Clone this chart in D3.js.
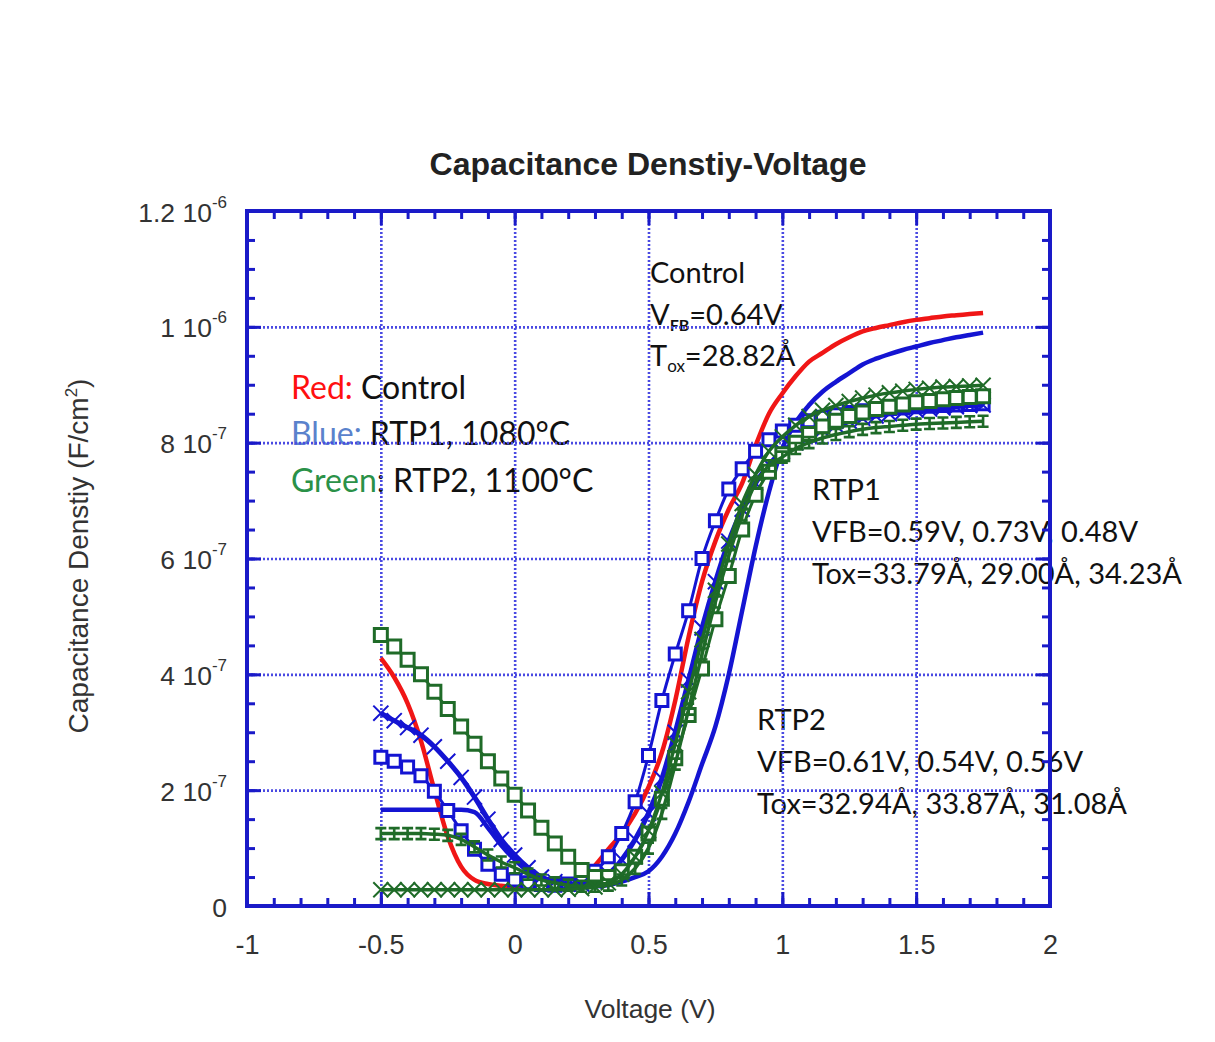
<!DOCTYPE html>
<html>
<head>
<meta charset="utf-8">
<script src="https://cdn.jsdelivr.net/npm/d3@7"></script>
<style>
body { margin: 0; background: #fff; }
.axislabel { font-family: "Liberation Sans", Arial, sans-serif; fill: #333; }
.note { font-family: Lato, "Open Sans", sans-serif; font-size: 29px; fill: #111; }
.legend { font-size: 32px; }
</style>
</head>
<body>
<svg id="chart" width="1215" height="1042"></svg>
<script>
// C-V sweeps, capacitance in units of 1e-7 F/cm^2
var voltage = [-0.5,-0.45,-0.4,-0.35,-0.3,-0.25,-0.2,-0.15,-0.1,-0.05,0,0.05,0.1,0.15,0.2,0.25,0.3,0.35,0.4,0.45,0.5,0.55,0.6,0.65,0.7,0.75,0.8,0.85,0.9,0.95,1,1.05,1.1,1.15,1.2,1.25,1.3,1.35,1.4,1.45,1.5,1.55,1.6,1.65,1.7,1.75];

var control = [4.28,3.95,3.5,2.85,2.0,1.2,0.68,0.45,0.38,0.35, 0.33,0.32,0.32,0.34,0.4,0.5,0.7,0.98,1.25,1.6, 2.05,2.65,3.55,4.65,5.6,6.3,6.85,7.3,7.95,8.5, 8.85,9.15,9.4,9.55,9.7,9.82,9.92,9.98,10.03,10.08, 10.12,10.15,10.18,10.2,10.22,10.24];

var rtp1Line = [1.66,1.66,1.66,1.66,1.66,1.66,1.66,1.62,1.35,1.05, 0.8,0.6,0.48,0.4,0.36,0.34,0.34,0.36,0.42,0.5, 0.6,0.85,1.25,1.8,2.45,3.1,4.0,5.1,6.2,7.15, 7.9,8.35,8.65,8.88,9.05,9.2,9.35,9.45,9.53,9.6, 9.66,9.72,9.77,9.82,9.86,9.9];
var rtp1Cross = [3.33,3.2,3.08,2.95,2.75,2.5,2.22,1.88,1.5,1.15, 0.88,0.66,0.5,0.42,0.38,0.38,0.42,0.55,0.8,1.15, 1.6,2.2,3.0,3.9,4.8,5.6,6.3,6.85,7.3,7.62, 7.85,8.0,8.12,8.22,8.3,8.37,8.42,8.46,8.5,8.53, 8.56,8.58,8.6,8.62,8.64,8.65];
var rtp1Square = [2.57,2.5,2.4,2.25,1.98,1.65,1.3,0.98,0.72,0.55, 0.45,0.4,0.37,0.36,0.38,0.45,0.6,0.85,1.25,1.8, 2.6,3.55,4.35,5.1,6.0,6.65,7.2,7.55,7.85,8.05, 8.2,8.3,8.38,8.44,8.48,8.52,8.55,8.57,8.59,8.6, 8.62,8.63,8.64,8.65,8.66,8.67];

var rtp2Square = [4.68,4.48,4.25,4.0,3.7,3.4,3.1,2.8,2.5,2.2, 1.92,1.65,1.35,1.08,0.85,0.62,0.5,0.5,0.6,0.85, 1.25,1.85,2.55,3.3,4.1,4.95,5.7,6.5,7.1,7.5, 7.8,8.0,8.15,8.28,8.38,8.46,8.52,8.58,8.62,8.66, 8.7,8.72,8.75,8.77,8.79,8.8];
var rtp2Bar = [1.25,1.25,1.25,1.25,1.24,1.22,1.15,1.02,0.88,0.76, 0.66,0.55,0.45,0.4,0.36,0.34,0.34,0.36,0.45,0.65, 1.0,1.6,2.45,3.4,4.35,5.25,6.05,6.75,7.3,7.6, 7.75,7.9,8.0,8.08,8.14,8.19,8.23,8.26,8.28,8.3, 8.32,8.33,8.34,8.35,8.36,8.37];
var rtp2Cross = [0.28,0.28,0.28,0.28,0.28,0.28,0.28,0.28,0.28,0.28, 0.28,0.28,0.28,0.28,0.29,0.3,0.33,0.4,0.55,0.85, 1.3,1.95,2.8,3.7,4.6,5.45,6.25,6.95,7.45,7.85, 8.1,8.3,8.45,8.56,8.64,8.71,8.77,8.82,8.86,8.89, 8.92,8.94,8.96,8.97,8.98,8.99];

var xMajor = [-1, -0.5, 0, 0.5, 1, 1.5, 2];
var xTickLabels = ["-1", "-0.5", "0", "0.5", "1", "1.5", "2"];
var yMajor = [0, 2, 4, 6, 8, 10, 12];
var yTickLabels = ["0", "2 10", "4 10", "6 10", "8 10", "1 10", "1.2 10"];
var yTickExp = ["", "-7", "-7", "-7", "-7", "-6", "-6"];

var red = "#f01616", blue = "#1414d2", green = "#1f6b28", frameBlue = "#1a1ac8";

// plot box (window.top is read-only, so prefixed names)
var boxLeft = 247, boxRight = 1050, boxTop = 211, boxBottom = 906;

var svg = d3.select("#chart");

var x = d3.scaleLinear().domain([-1, 2]).range([boxLeft, boxRight]);
var y = d3.scaleLinear().domain([0, 12]).range([boxBottom, boxTop]);

// title
svg.append("text")
    .attr("x", 648).attr("y", 175)
    .attr("text-anchor", "middle")
    .attr("class", "axislabel")
    .style("font-size", "32px").style("font-weight", "bold").style("fill", "#222")
    .text("Capacitance Denstiy-Voltage");

// annotations (drawn first so the grid sits over them like the original)
var notes = svg.append("g");

function note(px, py) {
    return notes.append("text").attr("class", "note").attr("x", px).attr("y", py);
}

note(650, 283).text("Control");
var t = note(650, 325);
t.append("tspan").text("V");
t.append("tspan").attr("dy", 6).style("font-size", "16px").style("font-weight", "bold").text("FB");
t.append("tspan").attr("dy", -6).text("=0.64V");
t = note(650, 366);
t.append("tspan").text("T");
t.append("tspan").attr("dy", 6).style("font-size", "17px").text("ox");
t.append("tspan").attr("dy", -6).text("=28.82Å");

t = note(291, 399).classed("legend", true);
t.append("tspan").style("fill", "#ff1010").text("Red:");
t.append("tspan").text(" Control");
t = note(291, 445).classed("legend", true);
t.append("tspan").style("fill", "#5a82cc").text("Blue:");
t.append("tspan").text(" RTP1, 1080°C");
t = note(291, 492).classed("legend", true);
t.append("tspan").style("fill", "#2a9148").text("Green");
t.append("tspan").text(": RTP2, 1100°C");

note(812, 500).text("RTP1");
note(812, 542).text("VFB=0.59V, 0.73V, 0.48V");
note(812, 584).text("Tox=33.79Å, 29.00Å, 34.23Å");
note(757, 730).text("RTP2");
note(757, 772).text("VFB=0.61V, 0.54V, 0.56V");
note(757, 814).text("Tox=32.94Å, 33.87Å, 31.08Å");

// dotted grid
var grid = svg.append("g");
grid.append("g")
    .attr("transform", "translate(0," + boxBottom + ")")
    .call(d3.axisBottom(x).tickValues(xMajor.slice(1, -1)).tickSize(-(boxBottom - boxTop)).tickFormat(""))
    .call(function(g) { g.select(".domain").remove(); });
grid.append("g")
    .attr("transform", "translate(" + boxLeft + ",0)")
    .call(d3.axisLeft(y).tickValues(yMajor.slice(1, -1)).tickSize(-(boxRight - boxLeft)).tickFormat(""))
    .call(function(g) { g.select(".domain").remove(); });
grid.selectAll("line")
    .attr("stroke", "#4a4ae2")
    .attr("stroke-width", 2.6)
    .attr("stroke-dasharray", "2,2");

// curves
var plot = svg.append("g");
var line = d3.line()
    .curve(d3.curveMonotoneX)
    .x(function(d, i) { return x(voltage[i]); })
    .y(function(d) { return y(d); });

var barSymbol = {
    draw: function(ctx, size) {
        var r = Math.sqrt(size) / 2;
        ctx.moveTo(-r, -r); ctx.lineTo(r, -r);
        ctx.moveTo(0, -r); ctx.lineTo(0, r);
        ctx.moveTo(-r, r); ctx.lineTo(r, r);
    }
};

var curves = [
    {values: control, color: red, width: 4.5},
    {values: rtp1Line, color: blue, width: 4.5},
    {values: rtp1Square, color: blue, width: 3, symbol: d3.symbolSquare, size: 144, fill: "#fff", mw: 3},
    {values: rtp1Cross, color: blue, width: 5, symbol: d3.symbolX, size: 150, fill: "none", mw: 2},
    {values: rtp2Square, color: green, width: 3, symbol: d3.symbolSquare, size: 169, fill: "#fff", mw: 3},
    {values: rtp2Bar, color: green, width: 3.5, symbol: barSymbol, size: 121, fill: "none", mw: 2.6},
    {values: rtp2Cross, color: green, width: 3.5, symbol: d3.symbolX, size: 150, fill: "none", mw: 2}
];

curves.forEach(function(c) {
    plot.append("path")
        .datum(c.values)
        .attr("d", line)
        .attr("fill", "none")
        .attr("stroke", c.color)
        .attr("stroke-width", c.width)
        .attr("stroke-linejoin", "round");
    if (c.symbol) {
        plot.append("g").selectAll("path")
            .data(c.values)
            .enter().append("path")
            .attr("transform", function(d, i) { return "translate(" + x(voltage[i]) + "," + y(d) + ")"; })
            .attr("d", d3.symbol().type(c.symbol).size(c.size))
            .attr("fill", c.fill)
            .attr("stroke", c.color)
            .attr("stroke-width", c.mw);
    }
});

// frame with inward ticks on all four sides
var axes = svg.append("g");
function ticks(axis, tx, ty, values, size) {
    axes.append("g")
        .attr("transform", "translate(" + tx + "," + ty + ")")
        .call(axis.tickValues(values).tickSize(-size).tickFormat(""))
        .call(function(g) { g.select(".domain").remove(); });
}
var xMinor = x.ticks(30), yMinor = y.ticks(24);
ticks(d3.axisBottom(x), 0, boxBottom, xMinor, 8);
ticks(d3.axisBottom(x), 0, boxBottom, xMajor, 14);
ticks(d3.axisTop(x), 0, boxTop, xMinor, 8);
ticks(d3.axisTop(x), 0, boxTop, xMajor, 14);
ticks(d3.axisLeft(y), boxLeft, 0, yMinor, 8);
ticks(d3.axisLeft(y), boxLeft, 0, yMajor, 14);
ticks(d3.axisRight(y), boxRight, 0, yMinor, 8);
ticks(d3.axisRight(y), boxRight, 0, yMajor, 14);
axes.selectAll("line").attr("stroke", frameBlue).attr("stroke-width", 3);

axes.append("rect")
    .attr("x", boxLeft).attr("y", boxTop)
    .attr("width", boxRight - boxLeft).attr("height", boxBottom - boxTop)
    .attr("fill", "none")
    .attr("stroke", frameBlue)
    .attr("stroke-width", 4);

// x tick labels
var xAxis = svg.append("g")
    .attr("transform", "translate(0," + boxBottom + ")")
    .call(d3.axisBottom(x).tickValues(xMajor).tickSize(0).tickPadding(29)
        .tickFormat(function(d, i) { return xTickLabels[i]; }));
xAxis.select(".domain").remove();
xAxis.selectAll("text")
    .attr("class", "axislabel")
    .style("font-size", "27px");

// y tick labels with exponent
var yAxis = svg.append("g")
    .attr("transform", "translate(" + (boxLeft - 20) + ",0)")
    .call(d3.axisLeft(y).tickValues(yMajor).tickSize(0).tickPadding(0).tickFormat(""));
yAxis.select(".domain").remove();
yAxis.selectAll(".tick").each(function(d, i) {
    var txt = d3.select(this).append("text")
        .attr("class", "axislabel")
        .attr("text-anchor", "end")
        .attr("y", 10)
        .style("font-size", "26.5px");
    txt.append("tspan").text(yTickLabels[i]);
    if (yTickExp[i]) {
        txt.append("tspan").attr("dy", -14).style("font-size", "17px").text(yTickExp[i]);
    }
});

// axis titles
svg.append("text")
    .attr("class", "axislabel")
    .attr("x", 650).attr("y", 1018)
    .attr("text-anchor", "middle")
    .style("font-size", "26.5px")
    .text("Voltage (V)");

var yl = svg.append("text")
    .attr("class", "axislabel")
    .attr("transform", "translate(88,556) rotate(-90)")
    .attr("text-anchor", "middle")
    .style("font-size", "28px");
yl.append("tspan").text("Capacitance Denstiy (F/cm");
yl.append("tspan").attr("dy", -11).style("font-size", "17px").text("2");
yl.append("tspan").attr("dy", 11).text(")");
</script>
</body>
</html>
